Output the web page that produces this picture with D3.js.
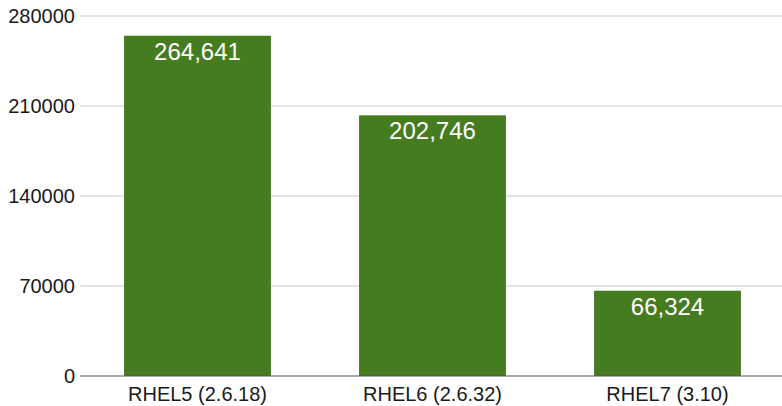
<!DOCTYPE html>
<html>
<head>
<meta charset="utf-8">
<script src="https://cdn.jsdelivr.net/npm/d3@7"></script>
<style>
  html, body { margin: 0; padding: 0; background: #fff; }
  svg { display: block; font-family: "Liberation Sans", Arial, Helvetica, sans-serif; }
</style>
</head>
<body>
<svg id="chart" width="782" height="406"></svg>
<script>
const categories = ["RHEL5 (2.6.18)", "RHEL6 (2.6.32)", "RHEL7 (3.10)"];
const values = [264641, 202746, 66324];
const yTicks = [0, 70000, 140000, 210000, 280000];

(function () {
const svg = d3.select("#chart");
const W = 782;
const mLeft = 80, mRight = 785, mTop = 16, mBottom = 376;

const x = d3.scaleBand().domain(categories).range([mLeft, mRight])
  .paddingInner(0.375).paddingOuter(0.1875);
const y = d3.scaleLinear().domain([0, 280000]).range([mBottom, mTop]);

// gridlines
svg.append("g").selectAll("line").data(yTicks.filter(d => d !== 0)).join("line")
  .attr("x1", mLeft).attr("x2", W)
  .attr("y1", d => y(d)).attr("y2", d => y(d))
  .attr("stroke", "#c8c8c8").attr("stroke-width", 1);

// y tick labels
svg.append("g").selectAll("text").data(yTicks).join("text")
  .attr("x", 75).attr("y", d => y(d))
  .attr("dy", "0.35em")
  .attr("text-anchor", "end")
  .attr("font-size", 20)
  .attr("fill", "#1a1a1a")
  .text(d => d);

// bars
svg.append("g").selectAll("rect").data(values).join("rect")
  .attr("x", (d, i) => x(categories[i]))
  .attr("width", x.bandwidth())
  .attr("y", d => y(d))
  .attr("height", d => y(0) - y(d))
  .attr("fill", "#457c1f");

// baseline
svg.append("line")
  .attr("x1", mLeft).attr("x2", W)
  .attr("y1", y(0)).attr("y2", y(0))
  .attr("stroke", "#555").attr("stroke-width", 1.2);

// value labels
const fmt = d3.format(",");
svg.append("g").selectAll("text").data(values).join("text")
  .attr("x", (d, i) => x(categories[i]) + x.bandwidth() / 2)
  .attr("y", d => y(d) + 24)
  .attr("text-anchor", "middle")
  .attr("font-size", 24)
  .attr("fill", "#ffffff")
  .text(d => fmt(d));

// x labels
svg.append("g").selectAll("text").data(categories).join("text")
  .attr("x", d => x(d) + x.bandwidth() / 2)
  .attr("y", 401)
  .attr("text-anchor", "middle")
  .attr("font-size", 20)
  .attr("fill", "#1a1a1a")
  .text(d => d);
})();
</script>
</body>
</html>
